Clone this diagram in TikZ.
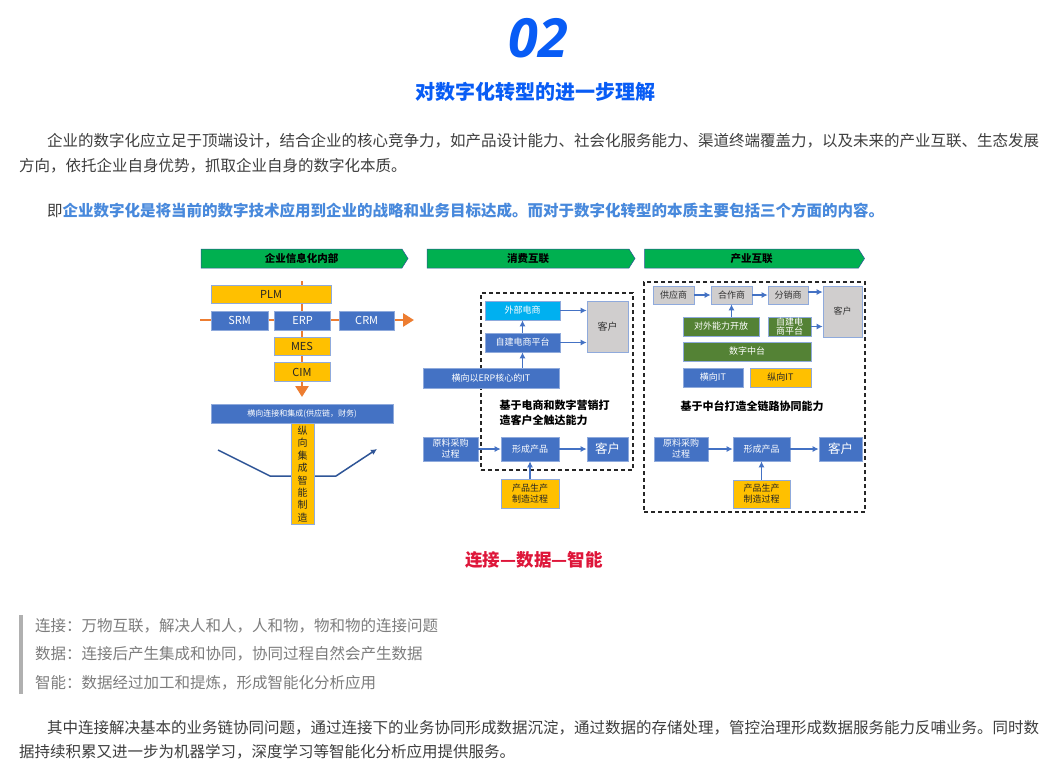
\documentclass[tikz,border=0pt]{standalone}
\usepackage{fontspec}
\setmainfont{Noto Sans CJK SC}
\newfontfamily\numfont{Open Sans}
\usepackage{xcolor}
\definecolor{titleblue}{RGB}{8, 92, 245}
\definecolor{textgray}{RGB}{62, 62, 62}
\definecolor{linkblue}{RGB}{72, 137, 220}
\definecolor{quotegray}{RGB}{125, 125, 125}
\definecolor{bargray}{RGB}{176, 176, 176}
\definecolor{alertred}{RGB}{222, 22, 58}
\definecolor{bannergreen}{RGB}{0, 176, 80}
\definecolor{boxblue}{RGB}{68, 114, 196}
\definecolor{boxyellow}{RGB}{255, 192, 0}
\definecolor{boxgray}{RGB}{208, 206, 206}
\definecolor{boxgreen}{RGB}{84, 130, 53}
\definecolor{boxcyan}{RGB}{0, 176, 240}
\definecolor{edgeblue}{RGB}{143, 170, 220}
\definecolor{floworange}{RGB}{237, 125, 49}
\definecolor{navyblue}{RGB}{47, 85, 151}
\newcommand{\fsz}[2]{\fontsize{#1}{#2}\selectfont}
\usetikzlibrary{shapes.symbols, arrows.meta, positioning, calc}

\begin{document}
\begin{tikzpicture}[x=1pt, y=-1pt,
        wh/.style 2 args={minimum width=#1, minimum height=#2},
        box/.style={rectangle, draw=edgeblue, line width=0.6pt, inner sep=0pt, align=center, font=\fsz{9}{11}},
        bluebox/.style={box, fill=boxblue, text=white},
        yellowbox/.style={box, fill=boxyellow, text=black!85},
        graybox/.style={box, fill=boxgray, text=black!80},
        greenbox/.style={box, fill=boxgreen, text=white},
        cyanbox/.style={box, fill=boxcyan, text=white},
        banner/.style={signal, signal to=east, signal pointer angle=115, fill=bannergreen, draw=navyblue, line width=0.5pt, inner sep=0pt, minimum height=19, font=\bfseries\fsz{10.5}{12}},
        framebox/.style={rectangle, draw=black!85, dash pattern=on 4pt off 3pt, line width=1.4pt, inner sep=0pt},
        para/.style={anchor=west, inner sep=0pt, text=textgray, font=\fsz{15.5}{18}},
        quote/.style={anchor=west, inner sep=0pt, text=quotegray, font=\fsz{15.5}{18}},
        line/.style={draw=boxblue, line width=1.6pt, -{Latex[length=6pt,width=6pt]}},
        flowline/.style={draw=floworange, line width=2.6pt, -{Triangle[length=11pt,width=13pt]}}]

    \useasboundingbox[fill=white] (0,0) rectangle (1058,772);

    % Kopf
    \node [text=titleblue, font=\numfont\bfseries\itshape\fsz{54}{60}] (num) at (538,38) {02};
    \node [text=titleblue, font=\bfseries\fsz{20}{24}] (title) at (535,92) {对数字化转型的进一步理解};

    % Einleitung
    \node [para] (p1a) at (47,141) {企业的数字化应立足于顶端设计，结合企业的核心竞争力，如产品设计能力、社会化服务能力、渠道终端覆盖力，以及未来的产业互联、生态发展};
    \node [para] (p1b) at (19,166) {方向，依托企业自身优势，抓取企业自身的数字化本质。};
    \node [para] (p2) at (47,211) {即{\bfseries\color{linkblue}企业数字化是将当前的数字技术应用到企业的战略和业务目标达成。而对于数字化转型的本质主要包括三个方面的内容。}};

    % Spalte 1: Informatisierung intern
    \node [banner, minimum width=207] (banL) at (301.5,258.5) {企业信息化内部};
    \coordinate (hin) at (200,320);
    \coordinate (hout) at (414,320);
    \coordinate (vin) at (302,281);
    \coordinate (vout) at (302,397);
    \path [flowline] (hin) -- (hout);
    \path [flowline] (vin) -- (vout);
    \node [yellowbox, wh={120}{18}, font=\fsz{11}{13}] (plm) at (271,294) {PLM};
    \node [bluebox, wh={57}{19}, font=\fsz{11}{13}] (srm) at (239.5,320.5) {SRM};
    \node [bluebox, wh={56}{19}, font=\fsz{11}{13}, right=6pt of srm] (erp) {ERP};
    \node [bluebox, wh={55}{19}, font=\fsz{11}{13}, right=8pt of erp] (crm) {CRM};
    \node [yellowbox, wh={56}{18}, font=\fsz{11}{13}] (mes) at (302,346) {MES};
    \node [yellowbox, wh={56}{19}, font=\fsz{11}{13}] (cim) at (302,372) {CIM};
    \node [bluebox, wh={182}{19}, font=\fsz{8}{10}] (hconn) at (302,413.5) {横向连接和集成(供应链，财务)};
    \coordinate (pa) at (218,450);
    \coordinate (pb) at (270,476);
    \coordinate (pc) at (336,476);
    \coordinate (pd) at (377,449);
    \draw [navyblue, line width=1.5pt, -{Latex[length=6pt,width=6pt]}] (pa) -- (pb) -- (pc) -- (pd);
    \node [yellowbox, wh={23}{101}, font=\fsz{10}{12.4}] (vint) at (302.5,474) {纵\\向\\集\\成\\智\\能\\制\\造};

    % Spalte 2: Konsum-Vernetzung
    \node [banner, minimum width=208] (banM) at (528,258.5) {消费互联};
    \node [framebox, wh={152}{177}] (frameM) at (557,381.5) {};
    \node [cyanbox, wh={75}{19}] (waibu) at (522.5,310.5) {外部电商};
    \node [bluebox, wh={75}{19}] (zijian) at (522.5,342.5) {自建电商平台};
    \node [graybox, wh={41}{51}, font=\fsz{10}{12}] (kehuA) at (607.5,326.5) {客户};
    \node [bluebox, wh={136}{20}] (hengM) at (491,378) {横向以ERP核心的IT};
    \node [anchor=west, inner sep=0pt, align=left, font=\bfseries\fsz{11}{15}] (txtM) at (499.5,412.5) {基于电商和数字营销打\\造客户全触达能力};
    \node [bluebox, wh={55}{24}] (yuanM) at (450.5,449) {原料采购\\过程};
    \node [bluebox, wh={58}{24}] (xingM) at (530,449) {形成产品};
    \node [bluebox, wh={41}{24}, font=\fsz{12.5}{14}] (kehuB) at (607.5,449) {客户};
    \node [yellowbox, wh={58}{29}] (shengM) at (530,493.5) {产品生产\\制造过程};
    \path [line] (waibu.east) -- (waibu.east -| kehuA.west);
    \path [line] (zijian.east) -- (zijian.east -| kehuA.west);
    \path [line] (zijian) -- (waibu);
    \path [line] (hengM.north -| zijian.south) -- (zijian.south);
    \path [line] (yuanM) -- (xingM);
    \path [line] (xingM) -- (kehuB);
    \path [line] (shengM) -- (xingM);

    % Spalte 3: Industrie-Vernetzung
    \node [banner, minimum width=220] (banR) at (751.5,258.5) {产业互联};
    \node [framebox, wh={221}{230}] (frameR) at (754.5,397) {};
    \node [graybox, wh={41}{18}] (gong) at (673.5,295) {供应商};
    \node [graybox, wh={41}{18}] (hezuo) at (731.5,295) {合作商};
    \node [graybox, wh={40}{18}] (fenxiao) at (788,295) {分销商};
    \node [graybox, wh={39}{51}] (kehuC) at (842.5,311.5) {客户};
    \node [greenbox, wh={76}{19}] (duiwai) at (721,326.5) {对外能力开放};
    \node [greenbox, wh={43}{19}, font=\fsz{9}{9.5}] (zijianR) at (789.5,326.5) {自建电\\商平台};
    \node [greenbox, wh={128}{19}] (zhongtai) at (747,351.5) {数字中台};
    \node [bluebox, wh={60}{19}] (hengR) at (713,377.5) {横向IT};
    \node [yellowbox, wh={61}{19}] (zongR) at (780.5,377.5) {纵向IT};
    \node [inner sep=0pt, font=\bfseries\fsz{11}{13}] (txtR) at (752,406) {基于中台打造全链路协同能力};
    \node [bluebox, wh={54}{24}] (yuanR) at (681,449) {原料采购\\过程};
    \node [bluebox, wh={57}{24}] (xingR) at (761.5,449) {形成产品};
    \node [bluebox, wh={43}{24}, font=\fsz{12.5}{14}] (kehuD) at (840.5,449) {客户};
    \node [yellowbox, wh={57}{28}] (shengR) at (761.5,494) {产品生产\\制造过程};
    \path [line] (gong) -- (hezuo);
    \path [line] (hezuo) -- (fenxiao);
    \path [line] ($(fenxiao.east)+(0,-3)$) -- ($(fenxiao.east -| kehuC.west)+(0,-3)$);
    \path [line] (zijianR.east) -- (zijianR.east -| kehuC.west);
    \path [line] (duiwai.north -| hezuo.south) -- (hezuo.south);
    \path [line] (yuanR) -- (xingR);
    \path [line] (xingR) -- (kehuD);
    \path [line] (shengR) -- (xingR);

    % Schluss
    \node [text=alertred, font=\bfseries\fsz{17.5}{20}] (motto) at (534,560) {连接—数据—智能};
    \node [fill=bargray, wh={4}{79}, inner sep=0pt] (qbar) at (21,654.5) {};
    \node [quote] (q1) at (35,626) {连接：万物互联，解决人和人，人和物，物和物的连接问题};
    \node [quote] (q2) at (35,654) {数据：连接后产生集成和协同，协同过程自然会产生数据};
    \node [quote] (q3) at (35,683) {智能：数据经过加工和提炼，形成智能化分析应用};
    \node [para] (p3a) at (47,728) {其中连接解决基本的业务链协同问题，通过连接下的业务协同形成数据沉淀，通过数据的存储处理，管控治理形成数据服务能力反哺业务。同时数};
    \node [para] (p3b) at (19,752) {据持续积累又进一步为机器学习，深度学习等智能化分析应用提供服务。};
\end{tikzpicture}
\end{document}
